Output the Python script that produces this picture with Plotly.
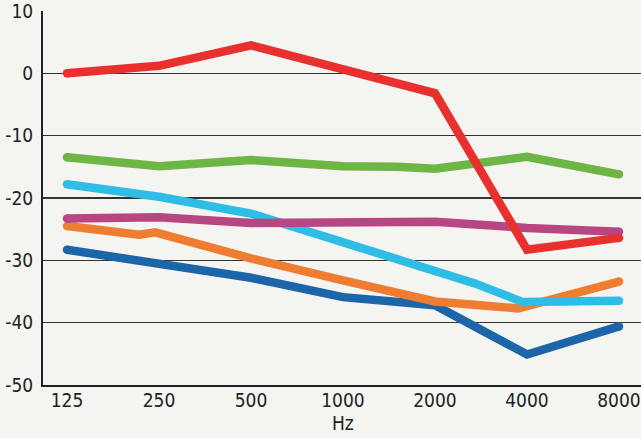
import math
import plotly.graph_objects as go

tick_freqs = [125, 250, 500, 1000, 2000, 4000, 8000]
tick_labels = ["125", "250", "500", "1000", "2000", "4000", "8000"]
y_ticks = [-50, -40, -30, -20, -10, 0, 10]
y_labels = ["-50", "-40", "-30", "-20", "-10", "0", "10"]
x_title = "Hz"

blue_f = [125, 250, 500, 1000, 2000, 4000, 8000]
blue_v = [-28.3, -30.5, -32.8, -35.9, -37.2, -45.1, -40.6]

orange_f = [125, 215, 243, 500, 1000, 2000, 3740, 8000]
orange_v = [-24.5, -25.9, -25.5, -29.7, -33.2, -36.6, -37.7, -33.4]

cyan_f = [125, 250, 500, 1000, 2000, 2700, 3880, 8000]
cyan_v = [-17.8, -19.8, -22.5, -27.1, -31.6, -33.7, -36.7, -36.5]

magenta_f = [125, 250, 500, 1000, 2000, 4000, 8000]
magenta_v = [-23.3, -23.1, -24.0, -23.8, -23.8, -24.8, -25.4]

green_f = [125, 250, 500, 1000, 1500, 2000, 4000, 8000]
green_v = [-13.45, -14.9, -13.9, -14.9, -15.0, -15.3, -13.4, -16.2]

red_f = [125, 250, 500, 1000, 2000, 4000, 8000]
red_v = [0.0, 1.2, 4.5, 0.7, -3.2, -28.3, -26.4]

series = [
    (blue_f, blue_v, "#1c65a8"),
    (orange_f, orange_v, "#ef7d31"),
    (cyan_f, cyan_v, "#2fbde6"),
    (magenta_f, magenta_v, "#b84683"),
    (green_f, green_v, "#6db545"),
    (red_f, red_v, "#e8312f"),
]

fig = go.Figure()
for f, v, c in series:
    fig.add_trace(go.Scatter(x=f, y=v, mode="lines",
                             line=dict(color=c, width=8.5),
                             hoverinfo="skip", showlegend=False))
    fig.add_trace(go.Scatter(x=[f[0], f[-1]], y=[v[0], v[-1]], mode="markers",
                             marker=dict(color=c, size=8.5, line=dict(width=0)),
                             hoverinfo="skip", showlegend=False))

oct_ = math.log10(2)
x0 = math.log10(125) - (24 / 92) * oct_
x1 = math.log10(125) + ((641 - 43 - 24) / 92) * oct_

FONT = "Liberation Sans Narrow, DejaVu Sans Condensed, sans-serif"

fig.add_annotation(
    x=math.log10(tick_freqs[3]), xref="x", y=0, yref="paper",
    text=x_title, showarrow=False, yanchor="middle", yshift=-38,
    font=dict(family=FONT, size=19, color="#222222"),
)

fig.update_layout(
    width=641, height=438,
    margin=dict(l=43, r=0, t=11, b=53),
    paper_bgcolor="#f4f5f1",
    plot_bgcolor="#f4f5f1",
    font=dict(family=FONT, size=19, color="#222222"),
    xaxis=dict(
        type="log", range=[x0, x1], automargin=False,
        tickvals=tick_freqs, ticktext=tick_labels,
        showgrid=False, zeroline=False,
        showline=True, linecolor="#222222", linewidth=2,
        ticks="", ticklabelstandoff=-3,
        ticklabeloverflow="allow",
        tickfont=dict(family=FONT, size=19),
    ),
    yaxis=dict(
        range=[-50, 10], automargin=False,
        tickvals=y_ticks, ticktext=y_labels,
        showgrid=True, gridcolor="#333333", gridwidth=1.5,
        zeroline=False,
        showline=True, linecolor="#222222", linewidth=2,
        ticks="outside", ticklen=4, tickcolor="rgba(0,0,0,0)",
        ticklabeloverflow="allow",
        tickfont=dict(family=FONT, size=19),
    ),
)

fig.write_html(
    "out.html",
    config={"displayModeBar": False, "staticPlot": True},
    post_script="document.body.style.margin='0';document.body.style.background='#f4f5f1';",
)
